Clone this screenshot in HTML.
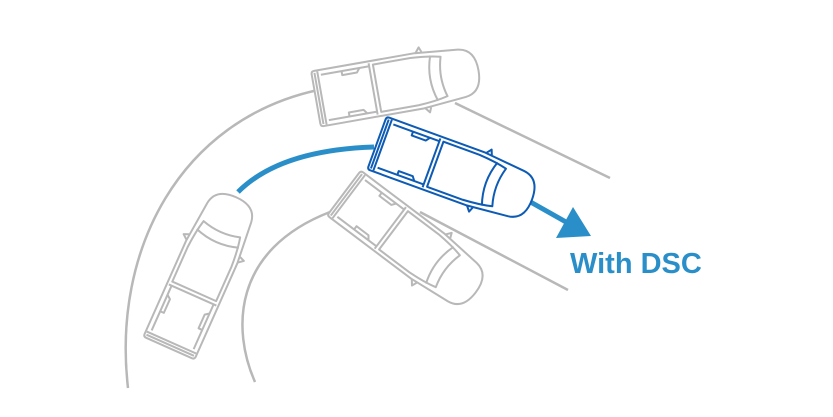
<!DOCTYPE html>
<html><head><meta charset="utf-8"><style>
html,body{margin:0;padding:0;background:#fff;}
svg{display:block;}
</style></head><body>
<svg width="833" height="417" viewBox="0 0 833 417" xmlns="http://www.w3.org/2000/svg">
<defs>
<g id="truck" fill="#fff" stroke-width="2" stroke-linejoin="round">
  <path d="M3,-28 L105,-28 L148,-24 Q165,-22 165,0 Q165,22 148,24 L105,28 L3,28 Q0,28 0,25 L0,-25 Q0,-28 3,-28 Z"/>
  <path d="M3,-26 L3,26 M6,-27 L6,27" fill="none"/>
  <path d="M9,-23 L58,-23 M9,23 L58,23 M58,-26 L58,26" fill="none"/>
  <path d="M30,-23 L30,-19 L45,-19 L48,-23 M30,23 L30,19 L45,19 L48,23" fill="none"/>
  <path d="M62,-24 L100,-24 Q118,-23 130,-20 Q124,0 130,20 Q118,23 100,24 L62,24 Z" fill="none"/>
  <path d="M120,-23 Q112,0 120,23" fill="none"/>
  <path d="M106,-28 L110,-33 L112,-28 M106,28 L110,33 L112,28" fill="none"/>
</g>
</defs>
<g fill="none" stroke="#b8b8b8" stroke-width="2.5">
  <path d="M128,388 C112,250 180,120 318,90"/>
  <path d="M455,103 L610,178"/>
  <path d="M255,382 C232,330 232,250 330,212"/>
  <path d="M420,212 L568,290"/>
</g>
<path d="M238,192 Q280,150 374,147" fill="none" stroke="#2a8fc8" stroke-width="5"/>
<path d="M527,200 L566,222" stroke="#2a8fc8" stroke-width="5"/>
<polygon points="573,207 591,236 556,238" fill="#2a8fc8"/>
<use href="#truck" stroke="#b8b8b8" transform="translate(316,99) rotate(-10)"/>
<use href="#truck" stroke="#b8b8b8" transform="translate(344,193) rotate(37)"/>
<use href="#truck" stroke="#b8b8b8" transform="translate(169,348) rotate(-66)"/>
<use href="#truck" stroke="#0d5bb5" transform="translate(377,143) rotate(20)"/>
<text x="570" y="273" font-family="Liberation Sans, sans-serif" font-weight="bold" font-size="29" fill="#2a8fc8">With DSC</text>
</svg>
</body></html>
